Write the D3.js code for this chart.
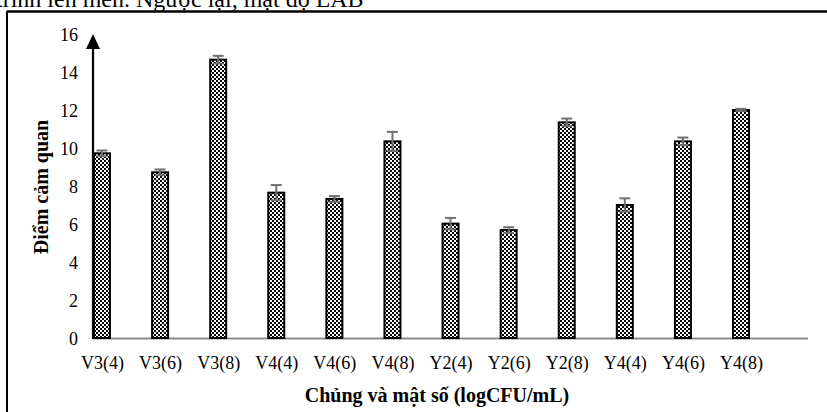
<!DOCTYPE html>
<html><head><meta charset="utf-8">
<script src="https://cdn.jsdelivr.net/npm/d3@7"></script>
<style>html,body{margin:0;padding:0;background:#fff;overflow:hidden}</style>
</head><body>
<svg id="c" width="827" height="412"></svg>
<script>
const categories = ["V3(4)","V3(6)","V3(8)","V4(4)","V4(6)","V4(8)","Y2(4)","Y2(6)","Y2(8)","Y4(4)","Y4(6)","Y4(8)"];
const values = [9.72, 8.72, 14.65, 7.65, 7.32, 10.35, 6.02, 5.68, 11.35, 7.0, 10.35, 12.0];
const errors = [0.15, 0.15, 0.2, 0.4, 0.15, 0.5, 0.3, 0.15, 0.2, 0.35, 0.2, 0.06];
const yTicks = [0,2,4,6,8,10,12,14,16];
const yTitle = "Điểm cảm quan";
const xTitle = "Chủng và mật số (logCFU/mL)";
const topText = "trình lên men. Ngược lại, mật độ LAB";

const svg = d3.select("#c");
const font = "'Liberation Serif','Times New Roman',serif";

// pattern
const defs = svg.append("defs");
const pat = defs.append("pattern").attr("id","chk").attr("patternUnits","userSpaceOnUse")
  .attr("width",4).attr("height",4);
pat.append("rect").attr("width",4).attr("height",4).attr("fill","#fff");
pat.append("rect").attr("x",0).attr("y",0).attr("width",2).attr("height",2).attr("fill","#000");
pat.append("rect").attr("x",2).attr("y",2).attr("width",2).attr("height",2).attr("fill","#000");
pat.append("rect").attr("x",1).attr("y",1).attr("width",1).attr("height",1).attr("fill","#000");

// top document text (cut by page edge, as in the reference)
svg.append("text").attr("x",-4).attr("y",7).attr("font-family",font).attr("font-size",24)
  .attr("fill","#000").text(topText);

// frame
svg.append("line").attr("x1",7).attr("x2",827).attr("y1",11.5).attr("y2",11.5).attr("stroke","#000").attr("stroke-width",2.5);
svg.append("line").attr("x1",7).attr("x2",7).attr("y1",11).attr("y2",412).attr("stroke","#000").attr("stroke-width",2);

const y = d3.scaleLinear().domain([0,16]).range([338,34]);
const x = d3.scalePoint().domain(categories).range([102,741]);
const bw = 16;

// y tick labels
const yAxis = d3.axisLeft(y).tickValues(yTicks).tickSize(0).tickPadding(0);
const gy = svg.append("g").attr("transform","translate(78,0)").call(yAxis);
gy.select(".domain").remove();
gy.selectAll("text").attr("font-family",font).attr("font-size",18).attr("fill","#000").attr("dy","0.35em");

// baseline
svg.append("line").attr("x1",93).attr("x2",808).attr("y1",y(0)+0.5).attr("y2",y(0)+0.5).attr("stroke","#8c8c8c").attr("stroke-width",2);

// bars
svg.selectAll("rect.bar").data(values).enter().append("rect").attr("class","bar")
  .attr("x",(d,i)=>x(categories[i])-bw/2).attr("width",bw)
  .attr("y",d=>y(d)).attr("height",d=>y(0)-y(d))
  .attr("fill","url(#chk)").attr("stroke","#000").attr("stroke-width",2);

// error bars
const eb = svg.append("g").attr("stroke","#707070").attr("stroke-width",2);
values.forEach((v,i)=>{
  const cx = x(categories[i]);
  eb.append("line").attr("x1",cx).attr("x2",cx).attr("y1",y(v+errors[i])).attr("y2",y(v-errors[i]));
  eb.append("line").attr("x1",cx-5.5).attr("x2",cx+5.5).attr("y1",y(v+errors[i])).attr("y2",y(v+errors[i]));
  eb.append("line").attr("x1",cx-5.5).attr("x2",cx+5.5).attr("y1",y(v-errors[i])).attr("y2",y(v-errors[i]));
});

// y axis line with arrow
svg.append("line").attr("x1",93).attr("x2",93).attr("y1",y(0)+1).attr("y2",46).attr("stroke","#000").attr("stroke-width",2.2);
svg.append("path").attr("d","M93,34 L86,49 L100,49 Z").attr("fill","#000");

// x tick labels
const xAxis = d3.axisBottom(x).tickSize(0).tickPadding(0);
const gx = svg.append("g").attr("transform","translate(0,356)").call(xAxis);
gx.select(".domain").remove();
gx.selectAll("text").attr("font-family",font).attr("font-size",18).attr("fill","#000").attr("dy","0.71em");

// titles
svg.append("text").attr("transform","translate(48,187) rotate(-90)").attr("text-anchor","middle")
  .attr("font-family",font).attr("font-size",20).attr("font-weight","bold").text(yTitle);
svg.append("text").attr("x",437).attr("y",402).attr("text-anchor","middle")
  .attr("font-family",font).attr("font-size",20).attr("font-weight","bold").text(xTitle);
</script>
</body></html>
